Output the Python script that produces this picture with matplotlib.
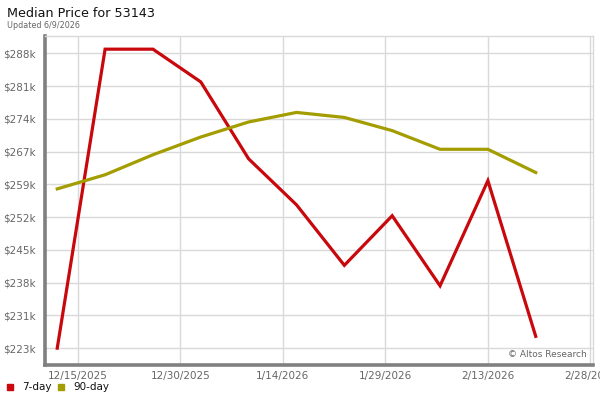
import matplotlib
matplotlib.use("Agg")
import matplotlib.pyplot as plt
from matplotlib.patches import Rectangle
from datetime import datetime

dates = ["2025-12-12", "2025-12-19", "2025-12-26", "2026-01-02", "2026-01-09",
         "2026-01-16", "2026-01-23", "2026-01-30", "2026-02-06", "2026-02-13",
         "2026-02-20"]
seven_day = [223.4, 289.1, 289.1, 281.9, 265.0, 254.9, 241.6, 252.5, 237.1, 260.2, 226.0]
ninety_day = [258.4, 261.5, 265.9, 269.8, 273.1, 275.2, 274.1, 271.2, 267.1, 267.1, 262.0]

y_ticks = [223.4, 230.6, 237.8, 245.0, 252.2, 259.4, 266.6, 273.8, 281.0, 288.2]
y_labels = ["$223k", "$231k", "$238k", "$245k", "$252k", "$259k", "$267k",
            "$274k", "$281k", "$288k"]
x_ticks = ["2025-12-15", "2025-12-30", "2026-01-14", "2026-01-29", "2026-02-13", "2026-02-28"]
x_labels = ["12/15/2025", "12/30/2025", "1/14/2026", "1/29/2026", "2/13/2026", "2/28/2026"]
series_names = ["7-day", "90-day"]

title = "Median Price for 53143"
subtitle = "Updated 6/9/2026"
credit = "\u00a9 Altos Research"

RED = "#c8080c"
OLIVE = "#a39d00"
GRID = "#d9d9d9"
AXIS = "#808080"
TXT = "#666666"

plt.rcParams['font.family'] = ['DejaVu Sans']

fig = plt.figure(figsize=(6, 4), dpi=100)
ax = fig.add_axes([0.075, 0.0875, 0.9133, 0.82325])

d = [datetime.strptime(s, "%Y-%m-%d") for s in dates]
ax.plot(d, seven_day, color=RED, lw=2.3, solid_joinstyle='miter', zorder=3)
ax.plot(d, ninety_day, color=OLIVE, lw=2.3, solid_joinstyle='miter', zorder=3)

ax.set_xlim(datetime(2025, 12, 10, 5), datetime(2026, 2, 28, 9))
ax.set_ylim(219.7, 292.06)

xt = [datetime.strptime(s, "%Y-%m-%d") for s in x_ticks]
ax.set_xticks(xt)
ax.set_xticklabels(x_labels)
ax.set_yticks(y_ticks)
ax.set_yticklabels(y_labels)

ax.grid(True, color=GRID, lw=1.0, zorder=0)
ax.tick_params(axis='both', length=0, labelsize=7.5, labelcolor=TXT)
ax.tick_params(axis='y', pad=7)
ax.tick_params(axis='x', pad=4)

for s in ['top', 'right']:
    ax.spines[s].set_color(GRID)
    ax.spines[s].set_linewidth(1.0)
for s in ['left', 'bottom']:
    ax.spines[s].set_color(AXIS)
    ax.spines[s].set_linewidth(2.6)

ax.text(0.988, 0.018, credit, transform=ax.transAxes, ha='right', va='bottom',
        fontsize=6.5, color=TXT)

fig.text(0.012, 0.966, title, fontsize=9.2, color='#111111', ha='left', va='center')
fig.text(0.012, 0.937, subtitle, fontsize=5.8, color=TXT, ha='left', va='center')

# legend
for i, (name, col) in enumerate(zip(series_names, [RED, OLIVE])):
    x0 = 7 + i * 51
    fig.patches.append(Rectangle((x0 / 600, 1 - 389.5 / 400), 6 / 600, 6 / 400,
                                 transform=fig.transFigure, color=col, figure=fig))
    fig.text((x0 + 15) / 600, 1 - 386.5 / 400, name, fontsize=7.5, color='#111111',
             ha='left', va='center')

fig.savefig("out.png", dpi=100)
